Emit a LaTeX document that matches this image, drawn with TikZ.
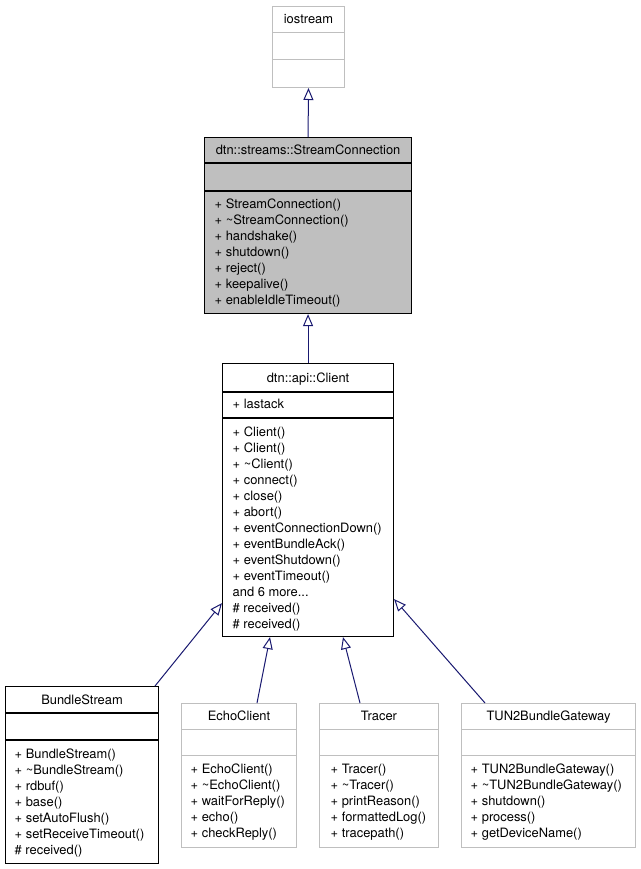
\documentclass[tikz,border=0pt]{standalone}
\usepackage{fontspec}
\setmainfont{TeX Gyre Heros}
\usetikzlibrary{arrows.meta}
\definecolor{edgeblue}{HTML}{191970}
\definecolor{greyline}{HTML}{BFBFBF}
\definecolor{greyfill}{HTML}{BFBFBF}
\newcommand{\dfont}{\fontsize{12.9}{16}\selectfont}
\newcommand{\tl}{\textasciitilde}
\tikzset{
 docbox/.style={draw=black, line width=1.1pt, fill=white, inner sep=0pt, anchor=north west},
 undocbox/.style={draw=greyline, line width=1pt, fill=white, inner sep=0pt, anchor=north west},
 seprule/.style={draw=black, line width=1.1pt},
 greyrule/.style={draw=greyline, line width=1pt},
 titletext/.style={font=\dfont, inner sep=0pt, anchor=base},
 membertext/.style={font=\dfont, inner sep=0pt, anchor=north west, align=left},
 inherit/.style={draw=edgeblue, line width=1pt, -{Triangle[open, length=12pt, width=10pt]}},
}
\begin{document}
\begin{tikzpicture}[x=1pt,y=1pt]
\useasboundingbox (0,0) rectangle (640,-869);
% boxes
\node[undocbox, minimum width=72, minimum height=81] (io) at (272,-6) {};
\node[docbox, fill=greyfill, minimum width=207, minimum height=176] (sc) at (204,-137) {};
\node[docbox, minimum width=171, minimum height=273] (client) at (222,-363) {};
\node[docbox, minimum width=153, minimum height=177] (bs) at (5,-686) {};
\node[undocbox, minimum width=115, minimum height=144] (echo) at (181,-703) {};
\node[undocbox, minimum width=119, minimum height=144] (tracer) at (319,-703) {};
\node[undocbox, minimum width=174, minimum height=144] (tun) at (461,-703) {};
% separators
\draw[greyrule] (io.west |- 0,-33) -- (io.east |- 0,-33);
\draw[greyrule] (io.west |- 0,-60) -- (io.east |- 0,-60);
\draw[seprule] (sc.west |- 0,-163) -- (sc.east |- 0,-163);
\draw[seprule] (sc.west |- 0,-191) -- (sc.east |- 0,-191);
\draw[seprule] (client.west |- 0,-392) -- (client.east |- 0,-392);
\draw[seprule] (client.west |- 0,-418) -- (client.east |- 0,-418);
\draw[seprule] (bs.west |- 0,-713) -- (bs.east |- 0,-713);
\draw[seprule] (bs.west |- 0,-740) -- (bs.east |- 0,-740);
\draw[greyrule] (echo.west |- 0,-729) -- (echo.east |- 0,-729);
\draw[greyrule] (echo.west |- 0,-755) -- (echo.east |- 0,-755);
\draw[greyrule] (tracer.west |- 0,-729) -- (tracer.east |- 0,-729);
\draw[greyrule] (tracer.west |- 0,-755) -- (tracer.east |- 0,-755);
\draw[greyrule] (tun.west |- 0,-729) -- (tun.east |- 0,-729);
\draw[greyrule] (tun.west |- 0,-755) -- (tun.east |- 0,-755);
% titles
\node[titletext] (iot) at (io.north |- 0,-24) {iostream};
\node[titletext] (sct) at (sc.north |- 0,-155) {dtn::streams::StreamConnection};
\node[titletext] (clientt) at (client.north |- 0,-382.5) {dtn::api::Client};
\node[titletext] (bst) at (bs.north |- 0,-704) {BundleStream};
\node[titletext] (echot) at (echo.north |- 0,-720) {EchoClient};
\node[titletext] (tracert) at (tracer.north |- 0,-720) {Tracer};
\node[titletext] (tunt) at (tun.north |- 0,-720) {TUN2BundleGateway};
% members
\node[membertext] (scm) at (214.5,-197.3) {\strut+ StreamConnection()\\\strut+ \tl StreamConnection()\\\strut+ handshake()\\\strut+ shutdown()\\\strut+ reject()\\\strut+ keepalive()\\\strut+ enableIdleTimeout()};
\node[membertext] (clienta) at (232.5,-397.3) {\strut+ lastack};
\node[membertext] (clientm) at (232.5,-425.3) {\strut+ Client()\\\strut+ Client()\\\strut+ \tl Client()\\\strut+ connect()\\\strut+ close()\\\strut+ abort()\\\strut+ eventConnectionDown()\\\strut+ eventBundleAck()\\\strut+ eventShutdown()\\\strut+ eventTimeout()\\\strut and 6 more...\\\strut\# received()\\\strut\# received()};
\node[membertext] (bsm) at (14.5,-747.3) {\strut+ BundleStream()\\\strut+ \tl BundleStream()\\\strut+ rdbuf()\\\strut+ base()\\\strut+ setAutoFlush()\\\strut+ setReceiveTimeout()\\\strut\# received()};
\node[membertext] (echom) at (190.5,-762.3) {\strut+ EchoClient()\\\strut+ \tl EchoClient()\\\strut+ waitForReply()\\\strut+ echo()\\\strut+ checkReply()};
\node[membertext] (tracerm) at (330.5,-762.3) {\strut+ Tracer()\\\strut+ \tl Tracer()\\\strut+ printReason()\\\strut+ formattedLog()\\\strut+ tracepath()};
\node[membertext] (tunm) at (470.5,-762.3) {\strut+ TUN2BundleGateway()\\\strut+ \tl TUN2BundleGateway()\\\strut+ shutdown()\\\strut+ process()\\\strut+ getDeviceName()};
% inheritance connectors
\draw[inherit] (sc.north) -- (io.south);
\draw[inherit] (client.north) -- (sc.south);
\draw[inherit] ([xshift=150pt]bs.north west) -- ([yshift=34pt]client.south west);
\draw[inherit] ([xshift=76pt]echo.north west) -- ([xshift=48pt]client.south west);
\draw[inherit] ([xshift=41pt]tracer.north west) -- ([xshift=121pt]client.south west);
\draw[inherit] ([xshift=24pt]tun.north west) -- ([yshift=38pt]client.south east);
\end{tikzpicture}
\end{document}
